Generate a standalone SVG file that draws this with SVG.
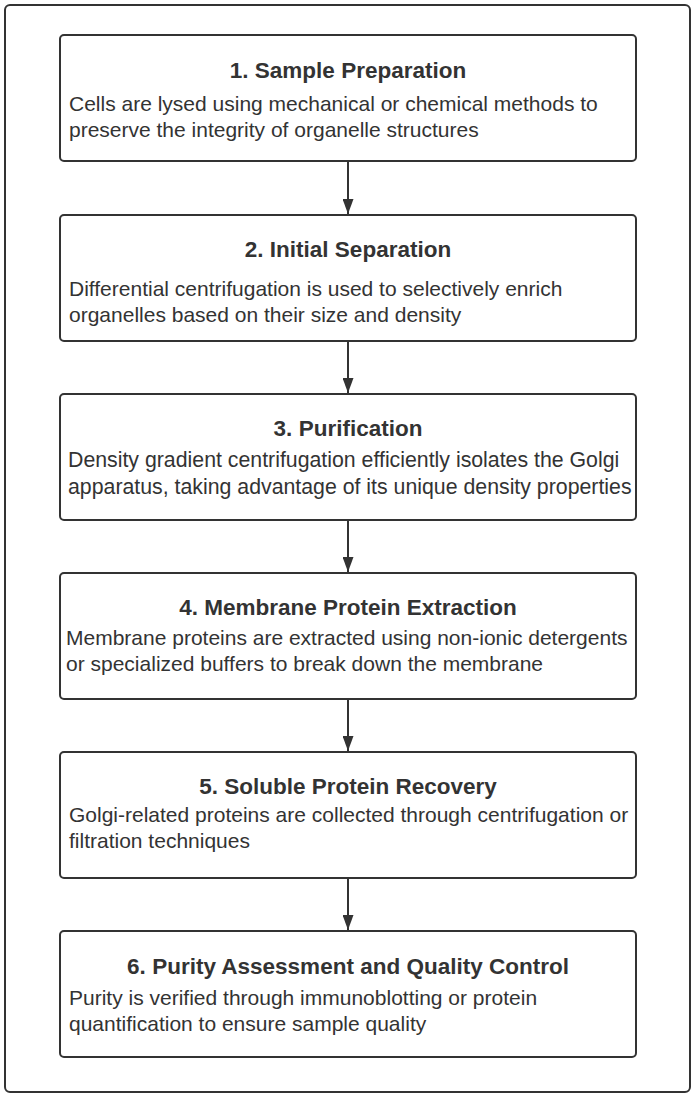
<svg xmlns="http://www.w3.org/2000/svg" width="698" height="1098" viewBox="0 0 698 1098">
  <defs>
    <marker id="arrow" viewBox="0 0 15 11" refX="15" refY="5.5" markerWidth="15" markerHeight="11" markerUnits="userSpaceOnUse" orient="auto">
      <path d="M0,0 L15,5.5 L0,11 Z" fill="#333"/>
    </marker>
    <style>
      .frame { fill: #fff; stroke: #333; stroke-width: 2; }
      .box { fill: #fff; stroke: #333; stroke-width: 2; }
      .title { font-family: "Liberation Sans", Arial, sans-serif; font-size: 22.5px; font-weight: bold; fill: #333; text-anchor: middle; }
      .body { font-family: "Liberation Sans", Arial, sans-serif; font-size: 21px; fill: #333; }
      .body.wide { font-size: 21.3px; }
      .edge { stroke: #333; stroke-width: 2; fill: none; }
    </style>
  </defs>
  <rect width="698" height="1098" fill="#fff"/>
  <rect class="frame" x="5" y="5" width="685" height="1087" rx="5"/>

  <g id="connectors">
    <line class="edge" x1="348" y1="161" x2="348" y2="214" marker-end="url(#arrow)"/>
    <line class="edge" x1="348" y1="341" x2="348" y2="393" marker-end="url(#arrow)"/>
    <line class="edge" x1="348" y1="520" x2="348" y2="572" marker-end="url(#arrow)"/>
    <line class="edge" x1="348" y1="699" x2="348" y2="751" marker-end="url(#arrow)"/>
    <line class="edge" x1="348" y1="878" x2="348" y2="930" marker-end="url(#arrow)"/>
  </g>

  <g id="node1">
    <rect class="box" x="60" y="35" width="576" height="126" rx="4"/>
    <text class="title" x="348" y="78">1. Sample Preparation</text>
    <text class="body" x="69" y="111">Cells are lysed using mechanical or chemical methods to</text>
    <text class="body" x="69" y="137">preserve the integrity of organelle structures</text>
  </g>

  <g id="node2">
    <rect class="box" x="60" y="215" width="576" height="126" rx="4"/>
    <text class="title" x="348" y="257">2. Initial Separation</text>
    <text class="body" x="69" y="296">Differential centrifugation is used to selectively enrich</text>
    <text class="body" x="69" y="322">organelles based on their size and density</text>
  </g>

  <g id="node3">
    <rect class="box" x="60" y="394" width="576" height="126" rx="4"/>
    <text class="title" x="348" y="436">3. Purification</text>
    <text class="body wide" x="68" y="467">Density gradient centrifugation efficiently isolates the Golgi</text>
    <text class="body wide" x="68" y="494">apparatus, taking advantage of its unique density properties</text>
  </g>

  <g id="node4">
    <rect class="box" x="60" y="573" width="576" height="126" rx="4"/>
    <text class="title" x="348" y="615">4. Membrane Protein Extraction</text>
    <text class="body" x="66" y="645">Membrane proteins are extracted using non-ionic detergents</text>
    <text class="body" x="66" y="671">or specialized buffers to break down the membrane</text>
  </g>

  <g id="node5">
    <rect class="box" x="60" y="752" width="576" height="126" rx="4"/>
    <text class="title" x="348" y="794">5. Soluble Protein Recovery</text>
    <text class="body" x="69" y="822">Golgi-related proteins are collected through centrifugation or</text>
    <text class="body" x="69" y="848">filtration techniques</text>
  </g>

  <g id="node6">
    <rect class="box" x="60" y="931" width="576" height="126" rx="4"/>
    <text class="title" x="348" y="974">6. Purity Assessment and Quality Control</text>
    <text class="body" x="69" y="1005">Purity is verified through immunoblotting or protein</text>
    <text class="body" x="69" y="1031">quantification to ensure sample quality</text>
  </g>
</svg>
